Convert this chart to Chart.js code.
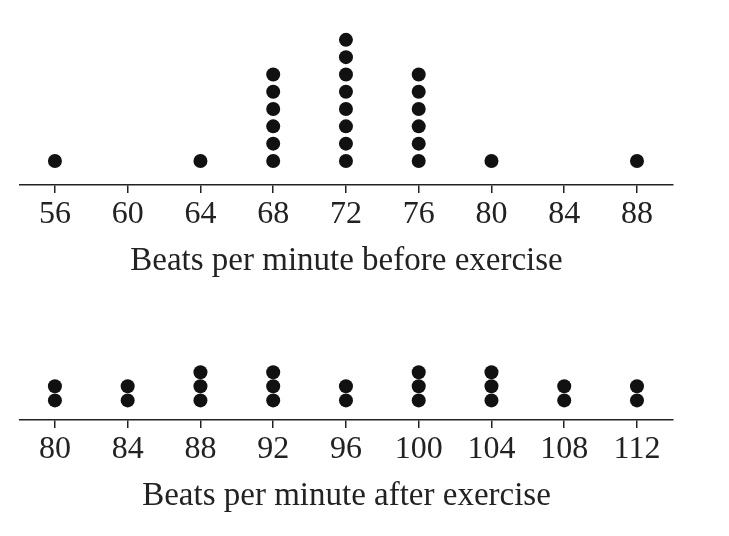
<!DOCTYPE html>
<html><head><meta charset="utf-8">
<script src="https://cdn.jsdelivr.net/npm/chart.js@4/dist/chart.umd.min.js"></script>
<style>
body{margin:0;background:#fff;width:729px;height:536px;position:relative;overflow:hidden}
.box{position:absolute;left:0;width:729px}
</style></head><body>
<div class="box" style="top:0;height:285px"><canvas id="c1"></canvas></div>
<div class="box" style="top:282px;height:238px"><canvas id="c2"></canvas></div>
<script>
// before exercise
const beforeVals = [56,64,68,72,76,80,88];
const beforeCounts = [1,1,6,8,6,1,1];
const beforeTicks = [56,60,64,68,72,76,80,84,88];
// after exercise
const afterVals = [80,84,88,92,96,100,104,108,112];
const afterCounts = [2,2,3,3,2,3,3,2,2];
const afterTicks = [80,84,88,92,96,100,104,108,112];

function dots(vals, counts){
  const pts=[];
  vals.forEach((v,i)=>{ for(let k=1;k<=counts[i];k++) pts.push({x:v,y:k}); });
  return pts;
}

function makePlot(id, vals, counts, ticks, title, ymax){
  const lo = ticks[0]-1.92, hi = ticks[ticks.length-1]+1.98;
  new Chart(document.getElementById(id), {
    type:'scatter',
    data:{ datasets:[{ data:dots(vals,counts), backgroundColor:'#111', borderWidth:0, pointRadius:7, pointHoverRadius:7 }]},
    options:{
      responsive:true, maintainAspectRatio:false, animation:false,
      layout:{ padding:{ left:20, right:56, top:0, bottom:4 } },
      plugins:{ legend:{display:false}, tooltip:{enabled:false} },
      scales:{
        y:{ display:false, min:-0.39, max:ymax },
        x:{
          type:'linear', min:lo, max:hi,
          afterBuildTicks:(ax)=>{ ax.ticks = ticks.map(v=>({value:v})); },
          border:{ display:true, color:'#222', width:1.5 },
          grid:{ drawOnChartArea:false, color:'#222', lineWidth:1.5, tickLength:8 },
          ticks:{ color:'#222', padding:2, font:{ family:'Liberation Serif', size:32 } },
          title:{ display:true, text:title, color:'#222', padding:{top:6,bottom:0}, font:{ family:'Liberation Serif', size:33 } }
        }
      }
    }
  });
}

makePlot('c1', beforeVals, beforeCounts, beforeTicks, 'Beats per minute before exercise', 9.9);
makePlot('c2', afterVals, afterCounts, afterTicks, 'Beats per minute after exercise', 8.9);
</script>
</body></html>
